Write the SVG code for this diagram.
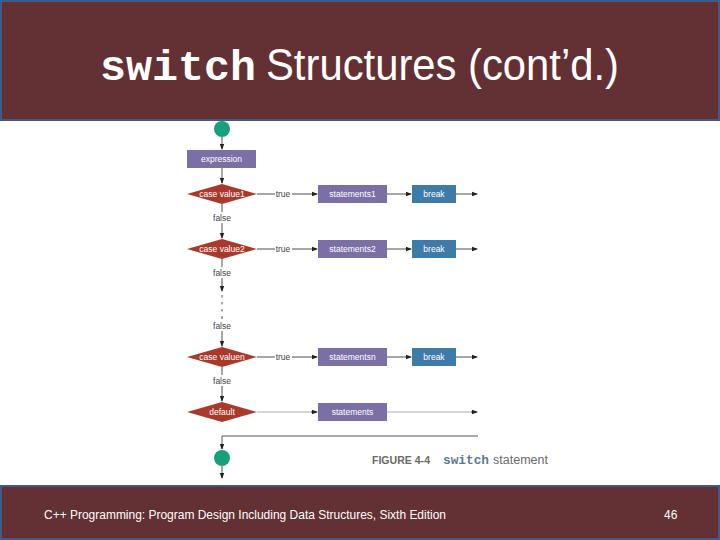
<svg xmlns="http://www.w3.org/2000/svg" width="720" height="540" viewBox="0 0 720 540">
<style>
.lbl{font-family:"Liberation Sans",Arial,sans-serif;font-size:8.5px;fill:#ffffff;text-anchor:middle}
.tf{font-family:"Liberation Sans",Arial,sans-serif;font-size:8.5px;fill:#444444;text-anchor:middle}
.proc{fill:#7b6fa6}
.brk{fill:#3f7ba8}
.dec{fill:#a93a2b}
.term{fill:#17a07a}
.ln{stroke:#222222;stroke-width:0.8;fill:none}
.lg{stroke:#999999;stroke-width:0.8;fill:none}
</style>
<defs>
<marker id="ah" markerWidth="6" markerHeight="6" refX="5" refY="3" orient="auto" markerUnits="userSpaceOnUse">
<path d="M0,0.8 L6,3 L0,5.2 Z" fill="#222222"/>
</marker>
</defs>
<rect x="0" y="0" width="720" height="540" fill="#ffffff"/>
<g id="header">
<rect x="1" y="1" width="718" height="119" fill="#633033" stroke="#3e5b8a" stroke-width="2"/>
<text y="80" fill="#ffffff"><tspan x="100" font-family="Liberation Mono,'Courier New',monospace" font-size="43" font-weight="bold" textLength="156" lengthAdjust="spacingAndGlyphs">switch</tspan><tspan x="266" font-family="'Liberation Sans',Arial,sans-serif" font-size="45" textLength="353" lengthAdjust="spacingAndGlyphs">Structures (cont’d.)</tspan></text>
</g>
<g id="connectors">
<line class="ln" x1="222" y1="137" x2="222" y2="149" marker-end="url(#ah)"/>
<line class="ln" x1="222" y1="168" x2="222" y2="183" marker-end="url(#ah)"/>
<line class="ln" x1="257" y1="194" x2="275" y2="194"/>
<line class="ln" x1="292" y1="194" x2="317" y2="194" marker-end="url(#ah)"/>
<line class="ln" x1="387" y1="194" x2="411" y2="194" marker-end="url(#ah)"/>
<line class="ln" x1="456" y1="194" x2="477" y2="194" marker-end="url(#ah)"/>
<line class="ln" x1="222" y1="204" x2="222" y2="212"/>
<line class="ln" x1="222" y1="223" x2="222" y2="238" marker-end="url(#ah)"/>
<line class="ln" x1="257" y1="249" x2="275" y2="249"/>
<line class="ln" x1="292" y1="249" x2="317" y2="249" marker-end="url(#ah)"/>
<line class="ln" x1="387" y1="249" x2="411" y2="249" marker-end="url(#ah)"/>
<line class="ln" x1="456" y1="249" x2="477" y2="249" marker-end="url(#ah)"/>
<line class="ln" x1="222" y1="259" x2="222" y2="267"/>
<line class="ln" x1="222" y1="278" x2="222" y2="291" marker-end="url(#ah)"/>
<line class="ln" x1="222" y1="295" x2="222" y2="297.5" stroke-width="1.2"/>
<line class="ln" x1="222" y1="302" x2="222" y2="304.5" stroke-width="1.2"/>
<line class="ln" x1="222" y1="309" x2="222" y2="311.5" stroke-width="1.2"/>
<line class="ln" x1="222" y1="316" x2="222" y2="319"/>
<line class="ln" x1="222" y1="331" x2="222" y2="346" marker-end="url(#ah)"/>
<line class="ln" x1="257" y1="357" x2="275" y2="357"/>
<line class="ln" x1="292" y1="357" x2="317" y2="357" marker-end="url(#ah)"/>
<line class="ln" x1="387" y1="357" x2="411" y2="357" marker-end="url(#ah)"/>
<line class="ln" x1="456" y1="357" x2="477" y2="357" marker-end="url(#ah)"/>
<line class="ln" x1="222" y1="367" x2="222" y2="375"/>
<line class="ln" x1="222" y1="386" x2="222" y2="401" marker-end="url(#ah)"/>
<line class="lg" x1="257" y1="412" x2="312" y2="412"/>
<line class="ln" x1="311" y1="412" x2="317" y2="412" marker-end="url(#ah)"/>
<line class="lg" x1="387" y1="412" x2="472" y2="412"/>
<line class="ln" x1="471" y1="412" x2="477" y2="412" marker-end="url(#ah)"/>
<polyline points="478,436 222,436 222,449" fill="none" stroke="#555555" stroke-width="1" marker-end="url(#ah)"/>
<line class="ln" x1="222" y1="466" x2="222" y2="478" marker-end="url(#ah)"/>
<text class="tf" x="283" y="197">true</text>
<text class="tf" x="283" y="252">true</text>
<text class="tf" x="283" y="360">true</text>
<text class="tf" x="222" y="221">false</text>
<text class="tf" x="222" y="276">false</text>
<text class="tf" x="222" y="329">false</text>
<text class="tf" x="222" y="384">false</text>
</g>
<g id="start"><circle class="term" cx="222" cy="129" r="8"/></g>
<g id="expression"><rect class="proc" x="187" y="150" width="69" height="18"/><text class="lbl" x="221.5" y="162">expression</text></g>
<g id="case1"><polygon class="dec" points="187,194 222,184 257,194 222,204"/><text class="lbl" x="222" y="197">case value1</text></g>
<g id="stmt1"><rect class="proc" x="318" y="185" width="69" height="18"/><text class="lbl" x="352.5" y="197">statements1</text></g>
<g id="break1"><rect class="brk" x="412" y="185" width="44" height="18"/><text class="lbl" x="434" y="197">break</text></g>
<g id="case2"><polygon class="dec" points="187,249 222,239 257,249 222,259"/><text class="lbl" x="222" y="252">case value2</text></g>
<g id="stmt2"><rect class="proc" x="318" y="240" width="69" height="18"/><text class="lbl" x="352.5" y="252">statements2</text></g>
<g id="break2"><rect class="brk" x="412" y="240" width="44" height="18"/><text class="lbl" x="434" y="252">break</text></g>
<g id="casen"><polygon class="dec" points="187,357 222,347 257,357 222,367"/><text class="lbl" x="222" y="360">case valuen</text></g>
<g id="stmtn"><rect class="proc" x="318" y="348" width="69" height="18"/><text class="lbl" x="352.5" y="360">statementsn</text></g>
<g id="breakn"><rect class="brk" x="412" y="348" width="44" height="18"/><text class="lbl" x="434" y="360">break</text></g>
<g id="default"><polygon class="dec" points="187,412 222,402 257,412 222,422"/><text class="lbl" x="222" y="415">default</text></g>
<g id="stmts"><rect class="proc" x="318" y="403" width="69" height="18"/><text class="lbl" x="352.5" y="415">statements</text></g>
<g id="end"><circle class="term" cx="222" cy="458" r="8"/></g>
<g id="caption">
<text x="372" y="464" font-family="'Liberation Sans',Arial,sans-serif" font-size="10.5" font-weight="bold" fill="#6a6a6a" textLength="58" lengthAdjust="spacingAndGlyphs">FIGURE 4-4</text>
<text x="443" y="464" font-family="'Liberation Mono','Courier New',monospace" font-size="12" font-weight="bold" fill="#5a7a96" textLength="46" lengthAdjust="spacingAndGlyphs">switch</text>
<text x="493" y="464" font-family="'Liberation Sans',Arial,sans-serif" font-size="12" fill="#6a6a6a" textLength="55" lengthAdjust="spacingAndGlyphs">statement</text>
</g>
<g id="footer">
<rect x="1" y="486" width="718" height="53" fill="#633033" stroke="#3e5b8a" stroke-width="2"/>
<text x="44" y="519" font-family="'Liberation Sans',Arial,sans-serif" font-size="12" fill="#ffffff" textLength="402" lengthAdjust="spacingAndGlyphs">C++ Programming: Program Design Including Data Structures, Sixth Edition</text>
<text x="664" y="519" font-family="'Liberation Sans',Arial,sans-serif" font-size="12" fill="#ffffff">46</text>
</g>
</svg>
